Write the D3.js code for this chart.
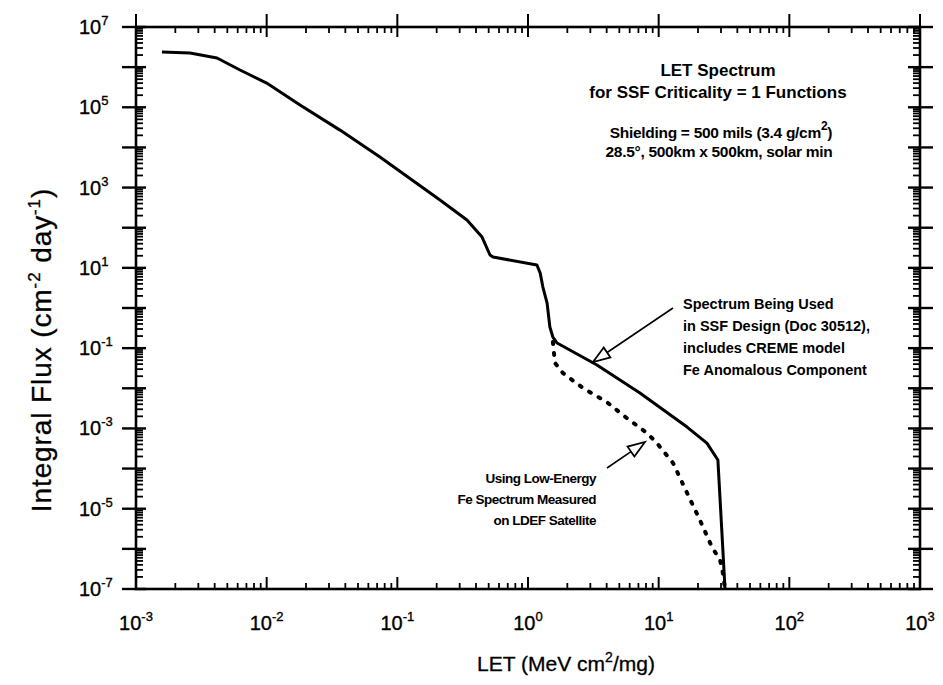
<!DOCTYPE html>
<html>
<head>
<meta charset="utf-8">
<script src="https://cdn.jsdelivr.net/npm/d3@7"></script>
<style>
  body { margin: 0; background: #fff; }
  svg { font-family: "Liberation Sans", Arial, sans-serif; }
</style>
</head>
<body>
<svg id="chart" width="943" height="685"></svg>
<script>
// LET values (MeV cm2/mg) and integral flux (cm-2 day-1)
var cremeLet  = [1.58e-3, 2.59e-3, 4.17e-3, 6.25e-3, 1.0e-2, 1.8e-2, 3.64e-2, 7.36e-2, 0.212, 0.341, 0.445, 0.512, 0.54, 1.17, 1.24, 1.30, 1.40, 1.47, 1.55, 1.67, 3.37, 7.19, 16.5, 23.4, 28.4, 32.2];
var cremeFlux = [2.38e6, 2.25e6, 1.69e6, 8.5e5, 4.0e5, 1.14e5, 2.7e4, 5.8e3, 490, 156, 58.6, 20.9, 18.6, 11.8, 7.4, 3.33, 1.33, 0.336, 0.189, 0.134, 0.038, 7.6e-3, 1.08e-3, 4.3e-4, 1.63e-4, 1e-7];

var ldefLet  = [1.55, 1.61, 1.85, 2.64, 4.02, 5.72, 8.14, 9.7, 12.9, 16.5, 20.7, 25.6, 29.5, 31.0, 32.2];
var ldefFlux = [0.142, 0.0426, 0.024, 0.0101, 4.5e-3, 1.8e-3, 7.7e-4, 4.3e-4, 1.37e-4, 2.46e-5, 5.2e-6, 1.1e-6, 5.3e-7, 2.5e-7, 1e-7];

var xTickExps = [-3, -2, -1, 0, 1, 2, 3];
var yTickExps = [-7, -5, -3, -1, 1, 3, 5, 7];

var titleLines = ['LET Spectrum', 'for SSF Criticality = 1 Functions'];
var cremeNote = ['Spectrum Being Used', 'in SSF Design (Doc 30512),', 'includes CREME model', 'Fe Anomalous Component'];
var ldefNote = ['Using Low-Energy', 'Fe Spectrum Measured', 'on LDEF Satellite'];

(function() {
  'use strict';

  var svg = d3.select('#chart');
  var left = 136, right = 920, top = 27, bottom = 589;

  var x = d3.scaleLog().domain([1e-3, 1e3]).range([left, right]);
  var y = d3.scaleLog().domain([1e-7, 1e7]).range([bottom, top]);

  // decade and sub-decade tick positions
  function minorValues(lo, hi) {
    var vals = [];
    for (var e = lo; e < hi; e++) {
      for (var m = 2; m <= 9; m++) vals.push(m * Math.pow(10, e));
    }
    return vals;
  }
  function majorValues(lo, hi) {
    return d3.range(lo, hi + 1).map(function(e) { return Math.pow(10, e); });
  }

  var ticks = svg.append('g').attr('stroke', '#000').attr('fill', 'none');

  // x minor ticks, bottom (up) and top (down)
  ticks.selectAll('line.xminb').data(minorValues(-3, 3)).enter().append('line')
    .attr('x1', function(d) { return x(d); }).attr('x2', function(d) { return x(d); })
    .attr('y1', bottom).attr('y2', bottom - 6).attr('stroke-width', 1.8);
  ticks.selectAll('line.xmint').data(minorValues(-3, 3)).enter().append('line')
    .attr('x1', function(d) { return x(d); }).attr('x2', function(d) { return x(d); })
    .attr('y1', top).attr('y2', top + 6).attr('stroke-width', 1.8);
  // x major ticks
  ticks.selectAll('line.xmajb').data(majorValues(-3, 3)).enter().append('line')
    .attr('x1', function(d) { return x(d); }).attr('x2', function(d) { return x(d); })
    .attr('y1', bottom).attr('y2', bottom - 12).attr('stroke-width', 2);
  ticks.selectAll('line.xmajt').data(majorValues(-3, 3)).enter().append('line')
    .attr('x1', function(d) { return x(d); }).attr('x2', function(d) { return x(d); })
    .attr('y1', top - 13).attr('y2', top + 10).attr('stroke-width', 2);

  // y minor ticks, left (right-pointing) and right (left-pointing)
  ticks.selectAll('line.yminl').data(minorValues(-7, 7)).enter().append('line')
    .attr('y1', function(d) { return y(d); }).attr('y2', function(d) { return y(d); })
    .attr('x1', left).attr('x2', left + 7).attr('stroke-width', 1.8);
  ticks.selectAll('line.yminr').data(minorValues(-7, 7)).enter().append('line')
    .attr('y1', function(d) { return y(d); }).attr('y2', function(d) { return y(d); })
    .attr('x1', right).attr('x2', right - 7).attr('stroke-width', 1.8);
  // y major ticks, crossing the axis
  ticks.selectAll('line.ymajl').data(majorValues(-7, 7)).enter().append('line')
    .attr('y1', function(d) { return y(d); }).attr('y2', function(d) { return y(d); })
    .attr('x1', left - 14).attr('x2', left + 10).attr('stroke-width', 2.4);
  ticks.selectAll('line.ymajr').data(majorValues(-7, 7)).enter().append('line')
    .attr('y1', function(d) { return y(d); }).attr('y2', function(d) { return y(d); })
    .attr('x1', right - 12).attr('x2', right + 13).attr('stroke-width', 2.4);

  // frame
  svg.append('rect')
    .attr('x', left).attr('y', top)
    .attr('width', right - left).attr('height', bottom - top)
    .attr('fill', 'none').attr('stroke', '#000').attr('stroke-width', 2.6);

  // text gets a thin stroke to look like the heavy scanned print
  function heavy(sel, w) {
    return sel.attr('fill', '#000').attr('stroke', '#000').attr('stroke-width', w);
  }

  // tick labels
  var xl = heavy(svg.append('g'), 0.35).attr('font-size', 20).attr('text-anchor', 'middle');
  xTickExps.forEach(function(e) {
    var t = xl.append('text').attr('x', x(Math.pow(10, e))).attr('y', bottom + 41);
    t.append('tspan').text('10');
    t.append('tspan').attr('font-size', 13).attr('dy', -9).text(e);
  });

  var yl = heavy(svg.append('g'), 0.35).attr('font-size', 20).attr('text-anchor', 'start');
  yTickExps.forEach(function(e) {
    var t = yl.append('text').attr('x', 79).attr('y', y(Math.pow(10, e)) + 7);
    t.append('tspan').text('10');
    t.append('tspan').attr('font-size', 13).attr('dy', -9).text(e);
  });

  // axis titles
  var xt = heavy(svg.append('text'), 0.3).attr('x', 566).attr('y', 671)
    .attr('text-anchor', 'middle').attr('font-size', 21);
  xt.append('tspan').text('LET (MeV cm');
  xt.append('tspan').attr('font-size', 14).attr('dy', -9).text('2');
  xt.append('tspan').attr('dy', 9).text('/mg)');

  var yt = heavy(svg.append('text'), 0.3)
    .attr('transform', 'translate(51,350) rotate(-90)')
    .attr('text-anchor', 'middle').attr('font-size', 28).attr('letter-spacing', 0.9);
  yt.append('tspan').text('Integral Flux (cm');
  yt.append('tspan').attr('font-size', 17).attr('dy', -11).text('-2');
  yt.append('tspan').attr('dy', 11).text(' day');
  yt.append('tspan').attr('font-size', 17).attr('dy', -11).text('-1');
  yt.append('tspan').attr('dy', 11).text(')');

  // curves
  var line = d3.line()
    .x(function(d) { return x(d[0]); })
    .y(function(d) { return y(d[1]); });

  svg.append('path')
    .datum(d3.zip(ldefLet, ldefFlux))
    .attr('d', line)
    .attr('fill', 'none').attr('stroke', '#000')
    .attr('stroke-width', 4).attr('stroke-linecap', 'round')
    .attr('stroke-dasharray', '2,9');

  svg.append('path')
    .datum(d3.zip(cremeLet, cremeFlux))
    .attr('d', line)
    .attr('fill', 'none').attr('stroke', '#000')
    .attr('stroke-width', 3).attr('stroke-linejoin', 'round');

  // title block
  var tb = svg.append('g').attr('text-anchor', 'middle').attr('font-weight', 'bold');
  tb.selectAll('text.title').data(titleLines).enter().append('text')
    .attr('x', 718).attr('y', function(d, i) { return 76 + i * 22; })
    .attr('font-size', 17)
    .text(function(d) { return d; });

  var sh = tb.append('text').attr('x', 721).attr('y', 138).attr('font-size', 15.5)
    .attr('letter-spacing', -0.3);
  sh.append('tspan').text('Shielding = 500 mils (3.4 g/cm');
  sh.append('tspan').attr('font-size', 12).attr('dy', -8).text('2');
  sh.append('tspan').attr('dy', 8).text(')');
  tb.append('text').attr('x', 719).attr('y', 157).attr('font-size', 15.5)
    .attr('letter-spacing', -0.3)
    .text('28.5\u00b0, 500km x 500km, solar min');

  // annotations
  svg.append('g').attr('font-size', 14.5).attr('font-weight', 'bold')
    .selectAll('text').data(cremeNote).enter().append('text')
    .attr('x', 683).attr('y', function(d, i) { return 309 + i * 22; })
    .text(function(d) { return d; });

  svg.append('g').attr('font-size', 13.5).attr('font-weight', 'bold')
    .attr('letter-spacing', -0.5).attr('text-anchor', 'end')
    .selectAll('text').data(ldefNote).enter().append('text')
    .attr('x', 596).attr('y', function(d, i) { return 483 + i * 21; })
    .text(function(d) { return d; });

  // hollow-headed arrows pointing at the curves
  function arrow(x0, y0, x1, y1) {
    var ang = Math.atan2(y1 - y0, x1 - x0);
    var len = 17, half = 6;
    var bx = x1 - len * Math.cos(ang), by = y1 - len * Math.sin(ang);
    var px = -Math.sin(ang) * half, py = Math.cos(ang) * half;
    var g = svg.append('g').attr('stroke', '#000').attr('stroke-width', 1.6);
    g.append('line').attr('x1', x0).attr('y1', y0).attr('x2', bx).attr('y2', by);
    g.append('path')
      .attr('d', 'M' + x1 + ',' + y1 + 'L' + (bx + px) + ',' + (by + py) +
        'L' + (bx - px) + ',' + (by - py) + 'Z')
      .attr('fill', '#fff').attr('stroke-width', 1.8);
  }
  arrow(673, 308, 593, 362);
  arrow(607, 468, 645, 442);
})();
</script>
</body>
</html>
